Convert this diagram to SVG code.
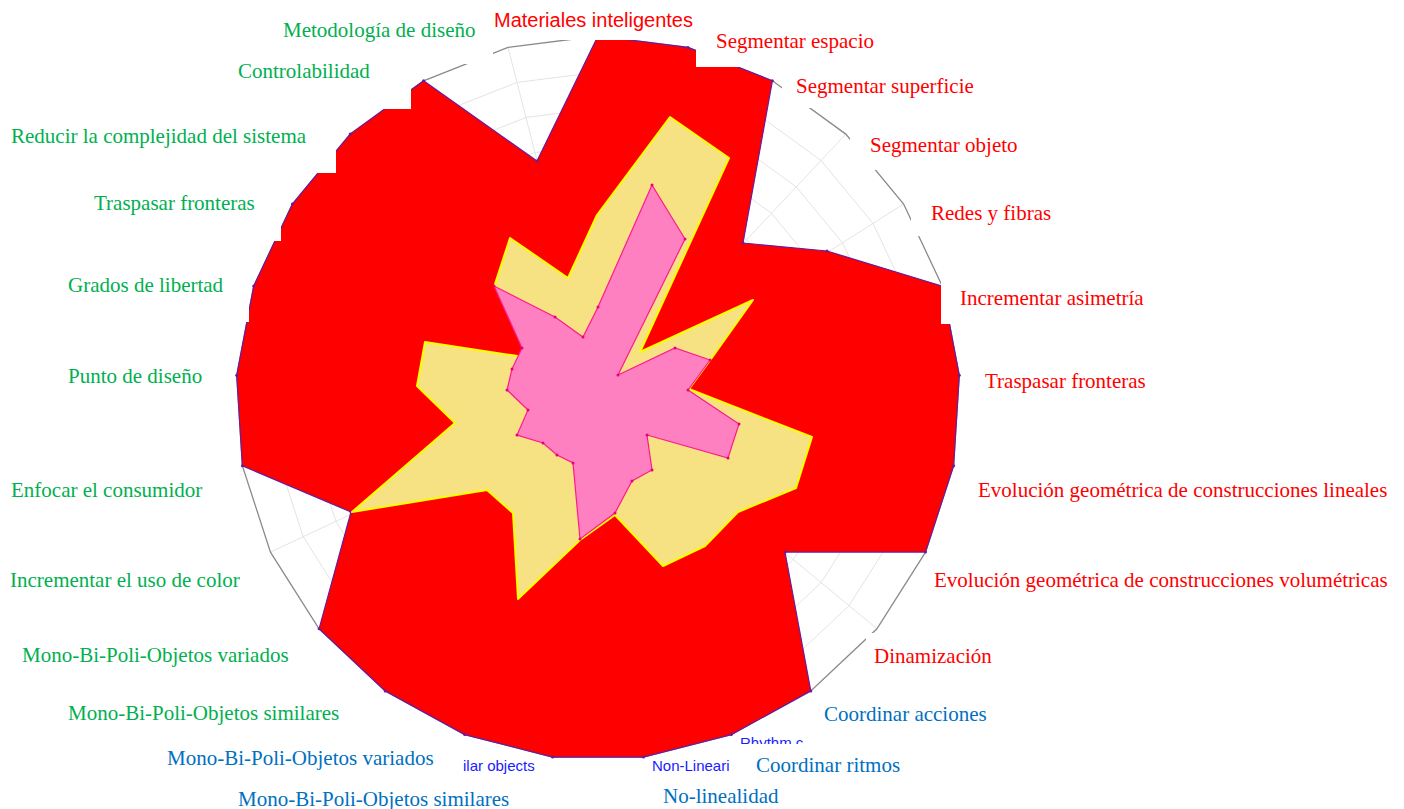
<svg xmlns="http://www.w3.org/2000/svg" width="1404" height="809" viewBox="0 0 1404 809">
<style>
.ring{fill:none;stroke:#e4e4e4;stroke-width:1}
.spoke{fill:none;stroke:#e4e4e4;stroke-width:1}
.outer{fill:none;stroke:#8a8a8a;stroke-width:1.3}
.box{fill:#ffffff;stroke:none}
.es{font-family:"Liberation Serif","Times New Roman",serif;font-size:21px}
.en{font-family:"Liberation Sans",Arial,sans-serif;font-size:15px;fill:#1a1aff}
.g{fill:#00b050}.r{fill:#ff0000}.b{fill:#0070c0}
</style>
<defs>
<polygon id="web" vector-effect="non-scaling-stroke" points="0,-1000 248.7,-968.6 481.8,-876.3 684.5,-729 844.3,-535.8 951.1,-309 998,-62.8 982.3,187.4 904.8,425.8 770.5,637.4 587.8,809 368.1,929.8 125.3,992.1 -125.3,992.1 -368.1,929.8 -587.8,809 -770.5,637.4 -904.8,425.8 -982.3,187.4 -998,-62.8 -951.1,-309 -844.3,-535.8 -684.5,-729 -481.8,-876.3 -248.7,-968.6"/>
<marker id="dotR" viewBox="0 0 4 4" refX="2" refY="2" markerWidth="4" markerHeight="4" markerUnits="userSpaceOnUse"><circle cx="2" cy="2" r="1.5" fill="#6a1b9a"/></marker>
<marker id="dotP" viewBox="0 0 4 4" refX="2" refY="2" markerWidth="4" markerHeight="4" markerUnits="userSpaceOnUse"><circle cx="2" cy="2" r="1.5" fill="#e6007e"/></marker>
</defs>
<rect width="1404" height="809" fill="#ffffff"/>
<g id="grid">
<use href="#web" class="ring" transform="translate(598,398) scale(0.0362)"/>
<use href="#web" class="ring" transform="translate(598,398) scale(0.0724)"/>
<use href="#web" class="ring" transform="translate(598,398) scale(0.1086)"/>
<use href="#web" class="ring" transform="translate(598,398) scale(0.1448)"/>
<use href="#web" class="ring" transform="translate(598,398) scale(0.181)"/>
<use href="#web" class="ring" transform="translate(598,398) scale(0.2172)"/>
<use href="#web" class="ring" transform="translate(598,398) scale(0.2534)"/>
<use href="#web" class="ring" transform="translate(598,398) scale(0.2896)"/>
<use href="#web" class="ring" transform="translate(598,398) scale(0.3258)"/>
<path class="spoke" d="M598,398L598,36M598,398L688,47.4M598,398L772.4,80.8M598,398L845.8,134.1M598,398L903.6,204M598,398L942.3,286.1M598,398L959.3,375.3M598,398L953.6,465.8M598,398L925.5,552.1M598,398L876.9,628.7M598,398L810.8,690.9M598,398L731.3,734.6M598,398L643.4,757.1M598,398L552.6,757.1M598,398L464.7,734.6M598,398L385.2,690.9M598,398L319.1,628.7M598,398L270.5,552.1M598,398L242.4,465.8M598,398L236.7,375.3M598,398L253.7,286.1M598,398L292.4,204M598,398L350.2,134.1M598,398L423.6,80.8M598,398L508,47.4"/>
<use href="#web" class="outer" transform="translate(598,398) scale(0.362)"/>
</g>
<g id="series-red">
<polygon fill="#ff0000" stroke="#6a1b9a" stroke-width="1.2" marker-start="url(#dotR)" marker-mid="url(#dotR)" points="598,36 688,47.4 772.4,80.8 743,243 827,251 942.3,286.1 959.3,375.3 953.6,465.8 925.5,552.1 785,552 810.8,690.9 731.3,734.6 643.4,757.1 552.6,757.1 464.7,734.6 385.2,690.9 319.1,628.7 351,512 242.4,465.8 236.7,375.3 253.7,286.1 292.4,204 350.2,134.1 423.6,80.8 537,161"/>
</g>
<g id="series-yellow">
<polygon fill="#f6e183" stroke="#ffff00" stroke-width="2" stroke-linejoin="round" points="597,215 670,117 729,158 640,352 753,300 711,359 689,389 812,437 796,488 738,512 705,546 663,566 615,515 580,540 518,599 513,513 487,490 352,512 455,423 417,386 425,342 537,359 495,284 510,238 568,278"/>
</g>
<g id="series-pink">
<polygon fill="#ff80c0" stroke="#ff1a8c" stroke-width="1.2" marker-start="url(#dotP)" marker-mid="url(#dotP)" points="598,307 652,185 685,239 618,375 675,348 710,360 688,390 739,424 728,458 647,435 652,470 632,481 615,513 580,539 573,463 557,455 543,443 517,435 528,410 507,390 512,369 522,348 494,286 555,317 583,337"/>
</g>
<g id="english-fragments">
<text class="en" x="652" y="771">Non-Lineari</text>
<text class="en" x="463" y="771">ilar objects</text>
<text class="en" x="740" y="748">Rhythm c</text>
</g>
<g id="label-boxes">
<rect class="box" x="275" y="8" width="218" height="56"/>
<rect class="box" x="488" y="0" width="208" height="40"/>
<rect class="box" x="696" y="20" width="190" height="47"/>
<rect class="box" x="782" y="68" width="203" height="40"/>
<rect class="box" x="850" y="123" width="175" height="47"/>
<rect class="box" x="911" y="191" width="150" height="45"/>
<rect class="box" x="941" y="276" width="210" height="48"/>
<rect class="box" x="975" y="362" width="180" height="42"/>
<rect class="box" x="962" y="469" width="436" height="42"/>
<rect class="box" x="931" y="557" width="467" height="42"/>
<rect class="box" x="866" y="633" width="134" height="42"/>
<rect class="box" x="815" y="693" width="180" height="40"/>
<rect class="box" x="738" y="744" width="172" height="36"/>
<rect class="box" x="655" y="782" width="130" height="27"/>
<rect class="box" x="230" y="781" width="290" height="28"/>
<rect class="box" x="160" y="744" width="302" height="35"/>
<rect class="box" x="60" y="697" width="290" height="35"/>
<rect class="box" x="15" y="640" width="290" height="36"/>
<rect class="box" x="4" y="558" width="258" height="42"/>
<rect class="box" x="4" y="470" width="234" height="42"/>
<rect class="box" x="60" y="356" width="175" height="42"/>
<rect class="box" x="60" y="268" width="189" height="54"/>
<rect class="box" x="88" y="186" width="193" height="55"/>
<rect class="box" x="4" y="118" width="332" height="55"/>
<rect class="box" x="230" y="55" width="181" height="54"/>
</g>
<g id="labels">
<text class="es g" x="283" y="37">Metodología de diseño</text>
<text x="494" y="27" fill="#ff0000" font-family="Liberation Sans, Arial, sans-serif" font-size="20">Materiales inteligentes</text>
<text class="es r" x="716" y="48">Segmentar espacio</text>
<text class="es r" x="796" y="93">Segmentar superficie</text>
<text class="es r" x="870" y="152">Segmentar objeto</text>
<text class="es r" x="931" y="220">Redes y fibras</text>
<text class="es r" x="960" y="305">Incrementar asimetría</text>
<text class="es r" x="985" y="388">Traspasar fronteras</text>
<text class="es r" x="978" y="497">Evolución geométrica de construcciones lineales</text>
<text class="es r" x="934" y="587">Evolución geométrica de construcciones volumétricas</text>
<text class="es r" x="874" y="663">Dinamización</text>
<text class="es b" x="824" y="721">Coordinar acciones</text>
<text class="es b" x="756" y="772">Coordinar ritmos</text>
<text class="es b" x="663" y="803">No-linealidad</text>
<text class="es b" x="238" y="806">Mono-Bi-Poli-Objetos similares</text>
<text class="es b" x="167" y="765">Mono-Bi-Poli-Objetos variados</text>
<text class="es g" x="68" y="720">Mono-Bi-Poli-Objetos similares</text>
<text class="es g" x="22" y="662">Mono-Bi-Poli-Objetos variados</text>
<text class="es g" x="10" y="587">Incrementar el uso de color</text>
<text class="es g" x="11" y="497">Enfocar el consumidor</text>
<text class="es g" x="68" y="383">Punto de diseño</text>
<text class="es g" x="68" y="292">Grados de libertad</text>
<text class="es g" x="94" y="210">Traspasar fronteras</text>
<text class="es g" x="11" y="143">Reducir la complejidad del sistema</text>
<text class="es g" x="238" y="78">Controlabilidad</text>
</g>
</svg>
